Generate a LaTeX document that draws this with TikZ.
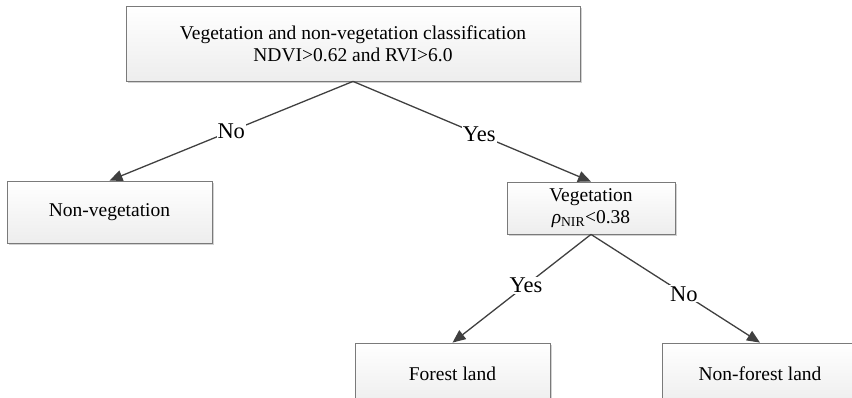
\documentclass[tikz,border=0pt]{standalone}
\usepackage{fontspec}
\setmainfont{Liberation Serif}
\usetikzlibrary{arrows.meta, shadows}
\definecolor{boxgray}{HTML}{7A7A7A}
\definecolor{darkline}{HTML}{404040}

\begin{document}
\begin{tikzpicture}[x=1pt, y=-1pt,
  box/.style={draw=boxgray, line width=0.8pt, top color=white, bottom color=gray!14,
    drop shadow={shadow xshift=2pt, shadow yshift=-2pt, fill=gray!35, opacity=1},
    align=center, inner sep=2pt, font=\fontsize{19.5}{22}\selectfont},
  edge/.style={draw=darkline, line width=1.3pt, -{Triangle[length=13pt,width=11pt]}},
  answer/.style={fill=white, inner sep=1pt, font=\fontsize{22.5}{24}\selectfont}]
\clip (0,0) rectangle (852,398);
\node[box, minimum width=454pt, minimum height=75pt] (top) at (353,43.5)
  {Vegetation and non-vegetation classification\\NDVI>0.62 and RVI>6.0};
\node[box, minimum width=205pt, minimum height=62pt] (nonveg) at (109.5,212) {Non-vegetation};
\node[box, minimum width=168pt, minimum height=52pt] (veg) at (591,208)
  {Vegetation\\\textit{ρ}\textsubscript{NIR}<0.38};
\node[box, minimum width=195pt, minimum height=62pt] (forest) at (452.5,374) {Forest land};
\node[box, minimum width=196pt, minimum height=62pt] (nonforest) at (760,374) {Non-forest land};
\draw[edge] (top.south) -- node[answer, pos=0.5] (no1) {No} (nonveg.north);
\draw[edge] (top.south) -- node[answer, pos=0.53] (yes1) {Yes} (veg.north);
\draw[edge] (veg.south) -- node[answer, pos=0.47] (yes2) {Yes} (forest.north);
\draw[edge] (veg.south) -- node[answer, pos=0.55] (no2) {No} (nonforest.north);
\end{tikzpicture}
\end{document}
